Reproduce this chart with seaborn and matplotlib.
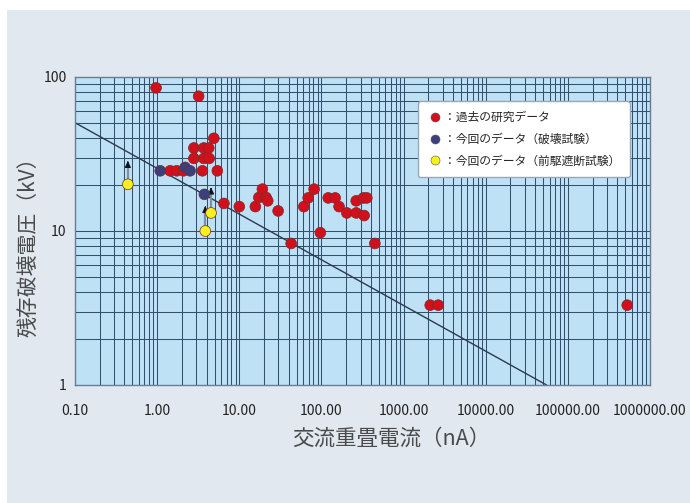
import numpy as np
import pandas as pd
import matplotlib
matplotlib.use("Agg")
import matplotlib.pyplot as plt
from matplotlib.patches import Rectangle
from matplotlib.lines import Line2D
from matplotlib.ticker import LogLocator, FixedLocator, FuncFormatter, NullFormatter
import seaborn as sns

sns.set_style("white")
plt.rcParams['font.family'] = ['Noto Sans CJK JP', 'DejaVu Sans']

# past research data (red)
past_x = [0.97, 3.2, 4.9, 2.8, 3.7, 4.25, 2.8, 3.7, 4.3, 1.44, 1.73, 2.09, 3.56, 5.4,
          6.5, 10.0, 15.7, 17.3, 19.1, 21.2, 22.2, 29.7, 42.8, 61, 69, 81.5, 97, 121,
          147, 164, 204, 265, 265, 325, 357, 331, 447, 2110, 2640, 528000]
past_y = [85, 75, 40, 34.6, 34.6, 34.6, 29.6, 29.6, 29.6, 24.6, 24.6, 24.6, 24.6, 24.6,
          15.1, 14.4, 14.4, 16.5, 18.7, 16.5, 15.7, 13.5, 8.3, 14.4, 16.4, 18.7, 9.75, 16.4,
          16.4, 14.4, 13.1, 15.7, 13.1, 16.4, 16.4, 12.6, 8.3, 3.3, 3.3, 3.3]
# this time, breakdown test (navy)
brk_x = [1.09, 2.19, 2.52, 3.76]
brk_y = [24.6, 25.9, 24.6, 17.3]
# this time, interrupted test (yellow) with arrow tips
cut_x = [0.44, 4.53, 3.86]
cut_y = [20.1, 13.1, 10.0]
cut_arrow_y = [29.6, 19.9, 15.1]
# reference line
line_x = [0.1, 55000]
line_y = [50.5, 1.0]

labels = ['：過去の研究データ', '：今回のデータ（破壊試験）', '：今回のデータ（前駆遮断試験）']
colors = ['#d2101c', '#3b3f7c', '#f6f01c']

df = pd.DataFrame({
    'x': past_x + brk_x + cut_x,
    'y': past_y + brk_y + cut_y,
    'group': [labels[0]] * len(past_x) + [labels[1]] * len(brk_x) + [labels[2]] * len(cut_x),
})

fig = plt.figure(figsize=(6.9, 5.03), dpi=100, facecolor='white')
fig.patches.append(Rectangle((7 / 690, 0), 683 / 690, 493 / 503, transform=fig.transFigure,
                             facecolor='#e1e8ef', edgecolor='none', zorder=-10))
ax = fig.add_axes([75 / 690, 118 / 503, 575 / 690, 308 / 503])
ax.set_facecolor('#bfe1f6')

ax.set_xscale('log')
ax.set_yscale('log')
ax.set_xlim(0.1, 1e6)
ax.set_ylim(1, 100)

grid_col = '#34506f'
ax.xaxis.set_major_locator(FixedLocator([10.0 ** k for k in range(-1, 7)]))
ax.xaxis.set_minor_locator(LogLocator(base=10, subs=np.arange(2, 10), numticks=20))
ax.yaxis.set_major_locator(FixedLocator([1, 10, 100]))
ax.yaxis.set_minor_locator(LogLocator(base=10, subs=np.arange(2, 10), numticks=20))
ax.xaxis.set_major_formatter(FuncFormatter(lambda v, p: f"{v:.2f}"))
ax.yaxis.set_major_formatter(FuncFormatter(lambda v, p: f"{v:g}"))
ax.xaxis.set_minor_formatter(NullFormatter())
ax.yaxis.set_minor_formatter(NullFormatter())
ax.grid(True, which='both', color=grid_col, lw=0.75)
ax.set_axisbelow(True)
ax.tick_params(which='both', length=0, labelsize=10, labelcolor='#222222')
ax.tick_params(axis='x', pad=14)
ax.tick_params(axis='y', pad=6)
for s in ax.spines.values():
    s.set_color('#6a7f95')
    s.set_linewidth(1.0)

ax.plot(line_x, line_y, color='#2b3a4e', lw=1.0, zorder=2)

for x, y0, y1 in zip(cut_x, cut_y, cut_arrow_y):
    ax.plot([x, x], [y0, y1 * 0.93], color='#7d8fa3', lw=1.6, zorder=2)
    ax.annotate('', xy=(x, y1), xytext=(x, y1 * 0.9),
                arrowprops=dict(arrowstyle='-|>', color='#111111', lw=0.8, mutation_scale=9),
                zorder=3)

sns.scatterplot(data=df, x='x', y='y', hue='group', hue_order=labels, palette=colors,
                s=60, edgecolor='#7a2a2a', linewidth=0.5, legend=False, ax=ax, zorder=4)

handles = [Line2D([], [], marker='o', ls='none', markersize=6.5, markerfacecolor=c,
                  markeredgecolor='#555555', markeredgewidth=0.4) for c in colors]
leg = ax.legend(handles, labels, loc='upper right', bbox_to_anchor=(0.975, 0.94),
                fontsize=8.5, frameon=True, fancybox=True, handletextpad=0.2,
                labelspacing=0.75, borderpad=0.8, handlelength=1.2)
leg.get_frame().set_facecolor('white')
leg.get_frame().set_edgecolor('#9aa8b6')
leg.get_frame().set_alpha(1)

ax.set_xlabel('交流重畳電流（nA）', fontsize=15.5, color='#4a4a4a')
ax.set_ylabel('残存破壊電圧（kV）', fontsize=15, color='#4a4a4a')
ax.xaxis.set_label_coords(0.55, -0.14)
ax.yaxis.set_label_coords(-0.061, 0.464)

fig.savefig('out.png', dpi=100, facecolor=fig.get_facecolor())
